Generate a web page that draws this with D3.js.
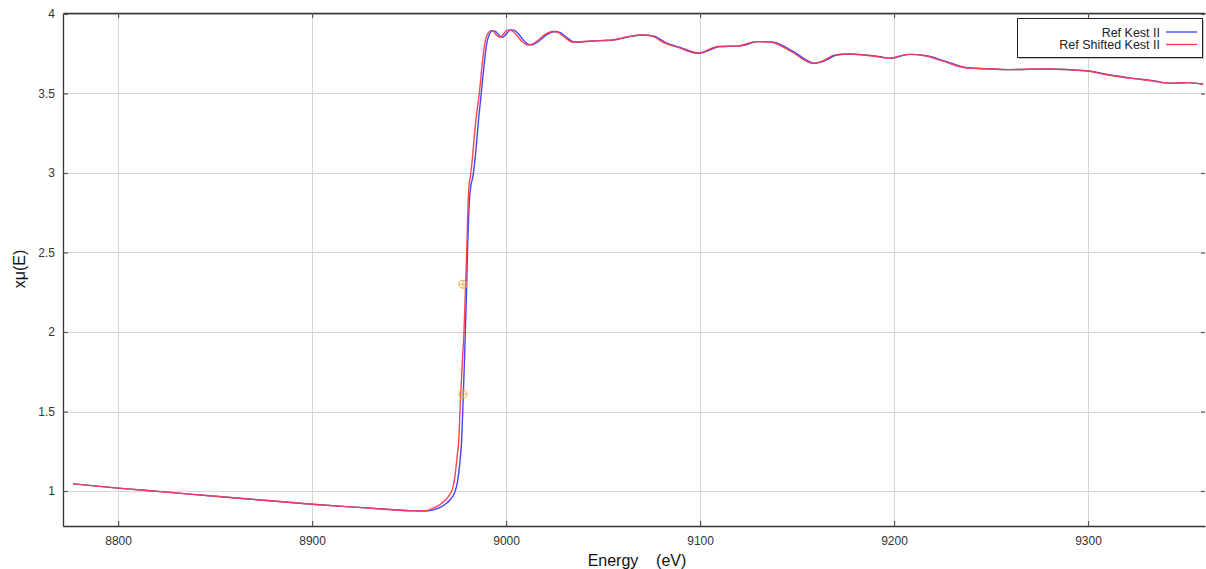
<!DOCTYPE html>
<html>
<head>
<meta charset="utf-8">
<script src="https://cdn.jsdelivr.net/npm/d3@7"></script>
<style>
  html, body { margin: 0; padding: 0; background: #fff; }
  svg { display: block; font-family: "Liberation Sans", Arial, sans-serif; }
</style>
</head>
<body>
<svg id="chart" width="1206" height="569"></svg>
<script>
// Reference spectrum (energy in eV, normalised absorption)
const refEnergy = [8776.8, 8800, 8825, 8850, 8875, 8900, 8920, 8940, 8952, 8958, 8962, 8966, 8969, 8971.5, 8973.5,
  8975, 8976.2, 8977.1, 8977.8, 8978.5, 8979.0, 8979.6, 8980.1, 8980.7, 8981.3, 8982.0, 8982.8, 8983.5, 8984.5,
  8985.7, 8987.2, 8988.5, 8990, 8991.5, 8993.0, 8994.5, 8996.5, 8998.1, 8999.8, 9001.5, 9003.0, 9004.5, 9007,
  9010, 9012, 9014, 9017, 9021, 9025, 9028, 9031, 9035.6, 9045, 9055.3, 9063, 9070.8, 9075.9, 9082.8, 9089.7,
  9099.6, 9110.3, 9120.6, 9130, 9137.8, 9148.1, 9159.3, 9165.3, 9170.5, 9177.3, 9185, 9192.8, 9198, 9208.2,
  9216.8, 9227.1, 9237.5, 9251.2, 9259.8, 9278.7, 9299.3, 9311.3, 9323.4, 9333.7, 9343.1, 9352.6, 9359.4];
const refMu = [1.045, 1.018, 0.993, 0.967, 0.942, 0.917, 0.900, 0.884, 0.875, 0.874, 0.880, 0.897, 0.920, 0.950, 0.990,
  1.06, 1.18, 1.32, 1.55, 1.80, 2.00, 2.25, 2.50, 2.72, 2.86, 2.93, 2.97, 3.03, 3.15,
  3.32, 3.50, 3.66, 3.81, 3.875, 3.895, 3.890, 3.865, 3.853, 3.870, 3.893, 3.900, 3.895, 3.865,
  3.822, 3.806, 3.808, 3.830, 3.870, 3.890, 3.882, 3.855, 3.822, 3.830, 3.836, 3.855, 3.868, 3.862, 3.816, 3.790,
  3.753, 3.795, 3.799, 3.826, 3.822, 3.763, 3.690, 3.711, 3.742, 3.748, 3.742, 3.731, 3.721, 3.746,
  3.737, 3.700, 3.662, 3.654, 3.650, 3.654, 3.643, 3.616, 3.595, 3.580, 3.564, 3.568, 3.558];

// Energy-shifted copy of the reference
const shiftEnergy = [8776.8, 8800, 8825, 8850, 8875, 8900, 8920, 8940, 8952, 8957, 8960, 8963, 8966, 8968.5, 8970.5,
  8972.3, 8973.5, 8974.8, 8975.6, 8976.4, 8977.4, 8978.3, 8979.0, 8979.7, 8980.2, 8980.6, 8981.0, 8981.5, 8982.3,
  8983.2, 8984.4, 8986.2, 8987.5, 8989, 8990.5, 8992.2, 8993.5, 8995.2, 8996.9, 8998.5, 9000.0, 9001.5, 9003.0,
  9005.5, 9008.7, 9011, 9013, 9016, 9020, 9024, 9027, 9030, 9034.5, 9044, 9054.3, 9062, 9069.8, 9074.9, 9081.8,
  9088.7, 9098.6, 9109.3, 9119.6, 9129, 9136.8, 9147.1, 9158.3, 9164.3, 9169.5, 9176.3, 9184, 9191.8, 9197,
  9207.2, 9215.8, 9226.1, 9236.5, 9250.2, 9258.8, 9277.7, 9298.3, 9310.3, 9322.4, 9332.7, 9342.1, 9351.6, 9359.4];
const shiftMu = [1.045, 1.018, 0.993, 0.967, 0.942, 0.917, 0.900, 0.884, 0.875, 0.875, 0.880, 0.895, 0.915, 0.940, 0.970,
  1.01, 1.08, 1.22, 1.32, 1.55, 1.80, 2.00, 2.25, 2.50, 2.72, 2.86, 2.93, 2.97, 3.05,
  3.17, 3.33, 3.50, 3.66, 3.81, 3.875, 3.895, 3.890, 3.865, 3.853, 3.870, 3.893, 3.900, 3.895,
  3.865, 3.822, 3.806, 3.808, 3.830, 3.870, 3.890, 3.882, 3.855, 3.822, 3.830, 3.836, 3.855, 3.868, 3.862, 3.816,
  3.790, 3.753, 3.795, 3.799, 3.826, 3.822, 3.763, 3.690, 3.711, 3.742, 3.748, 3.742, 3.731, 3.721,
  3.746, 3.737, 3.700, 3.662, 3.654, 3.650, 3.654, 3.643, 3.616, 3.595, 3.580, 3.564, 3.568, 3.558];

// Alignment markers on the edge
const markerEnergy = [8977.8, 8977.8];
const markerMu = [1.61, 2.30];

const xTicks = [8800, 8900, 9000, 9100, 9200, 9300];
const yTicks = [1, 1.5, 2, 2.5, 3, 3.5, 4];
const seriesNames = ["Ref Kest II", "Ref Shifted Kest II"];
const seriesColors = ["#3a3aff", "#ff3a4a"];

const svg = d3.select("#chart");
const plot = { left: 63, right: 1205, top: 13, bottom: 526 };

const x = d3.scaleLinear().domain([8771.6, 9360.3]).range([plot.left, plot.right]);
const y = d3.scaleLinear().domain([0.78, 4.006]).range([plot.bottom, plot.top]);

// Grid
const grid = svg.append("g");
grid.selectAll(".gx").data(xTicks).enter().append("line")
  .attr("x1", d => Math.round(x(d)) + 0.5).attr("x2", d => Math.round(x(d)) + 0.5)
  .attr("y1", plot.top).attr("y2", plot.bottom)
  .attr("stroke", "#d6d6d6").attr("stroke-width", 1);
grid.selectAll(".gy").data(yTicks).enter().append("line")
  .attr("x1", plot.left).attr("x2", plot.right)
  .attr("y1", d => Math.round(y(d)) + 0.5).attr("y2", d => Math.round(y(d)) + 0.5)
  .attr("stroke", "#d6d6d6").attr("stroke-width", 1);

// Axes with inward ticks
const axisColor = "#333";
const bottomAxis = svg.append("g").attr("transform", `translate(0,${plot.bottom})`)
  .call(d3.axisBottom(x).tickValues(xTicks).tickSizeInner(-5).tickSizeOuter(0).tickPadding(10).tickFormat(d3.format("d")));
const topAxis = svg.append("g").attr("transform", `translate(0,${plot.top})`)
  .call(d3.axisTop(x).tickValues(xTicks).tickSizeInner(-5).tickSizeOuter(0).tickFormat(""));
const leftAxis = svg.append("g").attr("transform", `translate(${plot.left},0)`)
  .call(d3.axisLeft(y).tickValues(yTicks).tickSizeInner(-5).tickSizeOuter(0).tickPadding(8).tickFormat(d3.format("")));
const rightAxis = svg.append("g").attr("transform", `translate(${plot.right},0)`)
  .call(d3.axisRight(y).tickValues(yTicks).tickSizeInner(-4).tickSizeOuter(0).tickFormat(""));

[bottomAxis, topAxis, leftAxis, rightAxis].forEach(g => {
  g.select(".domain").attr("stroke", axisColor).attr("stroke-width", 1.3);
  g.selectAll(".tick line").attr("stroke", "#555").attr("stroke-width", 1.2);
  g.selectAll(".tick text").attr("fill", "#333").style("font-size", "12px")
    .style("font-family", "'Liberation Sans', Arial, sans-serif");
});
rightAxis.select(".domain").attr("stroke", "none");

// Curves
const line = d3.line().x(d => x(d[0])).y(d => y(d[1])).curve(d3.curveMonotoneX);
const curves = [
  d3.zip(refEnergy, refMu),
  d3.zip(shiftEnergy, shiftMu)
];
const clip = svg.append("clipPath").attr("id", "clip").append("rect")
  .attr("x", plot.left).attr("y", plot.top).attr("width", plot.right - plot.left).attr("height", plot.bottom - plot.top);
const lines = svg.append("g").attr("clip-path", "url(#clip)");
curves.forEach((pts, i) => {
  lines.append("path").datum(pts)
    .attr("d", line).attr("fill", "none")
    .attr("stroke", seriesColors[i]).attr("stroke-width", 1.4)
    .attr("stroke-opacity", 0.95);
});

// Edge markers
const marks = svg.append("g");
d3.zip(markerEnergy, markerMu).forEach(([e, m]) => {
  const cx = x(e), cy = y(m);
  marks.append("circle").attr("cx", cx).attr("cy", cy).attr("r", 4)
    .attr("fill", "none").attr("stroke", "#f0a830").attr("stroke-width", 1.1).attr("stroke-opacity", 0.85);
  marks.append("line").attr("x1", cx - 4).attr("x2", cx + 4).attr("y1", cy).attr("y2", cy)
    .attr("stroke", "#f0a830").attr("stroke-width", 1).attr("stroke-opacity", 0.85);
  marks.append("line").attr("x1", cx).attr("x2", cx).attr("y1", cy - 4).attr("y2", cy + 4)
    .attr("stroke", "#f0a830").attr("stroke-width", 1).attr("stroke-opacity", 0.85);
});

// Axis titles
svg.append("text").attr("x", 637).attr("y", 566).attr("text-anchor", "middle")
  .attr("fill", "#111").style("font-size", "16px").attr("xml:space", "preserve")
  .text("Energy    (eV)");
svg.append("text").attr("transform", "translate(25,269) rotate(-90)").attr("text-anchor", "middle")
  .attr("fill", "#111").style("font-size", "16px").text("xμ(E)");

// Legend
const legend = svg.append("g");
legend.append("rect").attr("x", 1019).attr("y", 20).attr("width", 185).attr("height", 39)
  .attr("fill", "#888").attr("opacity", 0.5);
legend.append("rect").attr("x", 1017.5).attr("y", 18.5).attr("width", 185).attr("height", 39)
  .attr("fill", "#fff").attr("stroke", "#222").attr("stroke-width", 1);
seriesNames.forEach((name, i) => {
  const ly = 32 + i * 12.5;
  legend.append("text").attr("x", 1160).attr("y", ly + 4.5).attr("text-anchor", "end")
    .attr("fill", "#222").style("font-size", "12.5px").text(name);
  legend.append("line").attr("x1", 1166).attr("x2", 1197).attr("y1", ly).attr("y2", ly)
    .attr("stroke", seriesColors[i]).attr("stroke-width", 1.3);
});
</script>
</body>
</html>
